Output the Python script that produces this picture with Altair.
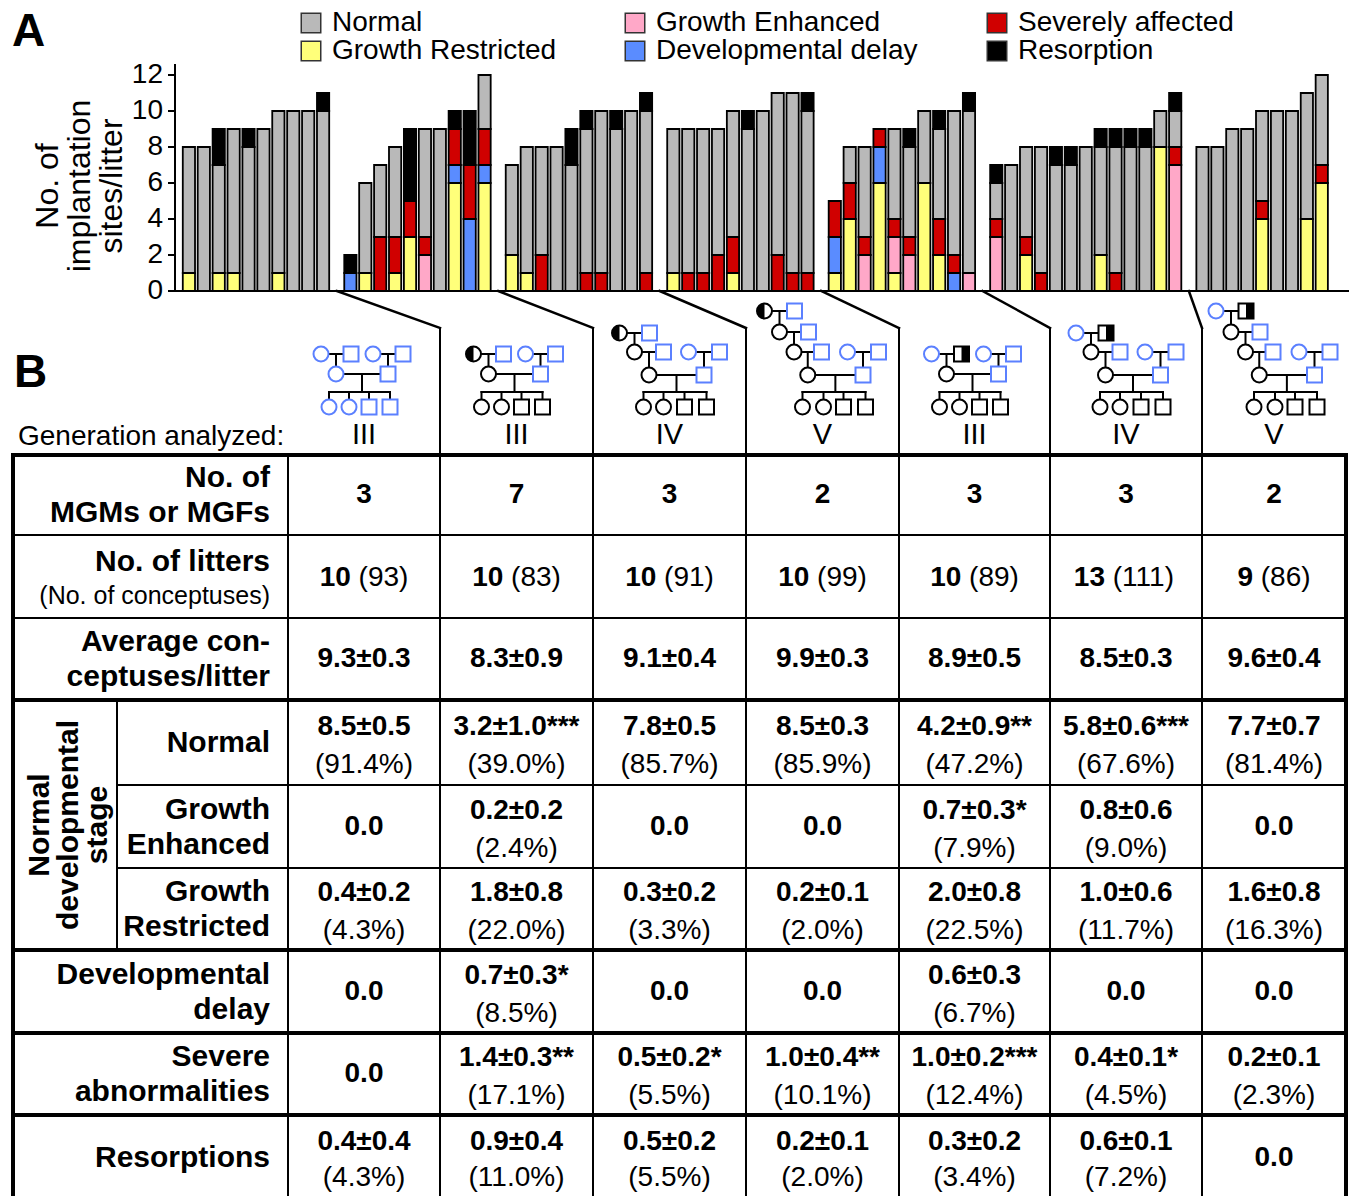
import altair as alt
import pandas as pd

FONT = "Liberation Sans"

# ---------------- Panel A data: segments of each litter, bottom to top ----------------
CATEGORIES = ["Normal", "Growth Restricted", "Growth Enhanced",
              "Developmental delay", "Severely affected", "Resorption"]
CATEGORY_COLORS = ["#b9b9b9", "#ffff7a", "#ffa8c8", "#5a8cff", "#d00000", "#000000"]
CODES = {"N": "Normal", "R": "Growth Restricted", "E": "Growth Enhanced",
         "D": "Developmental delay", "S": "Severely affected", "X": "Resorption"}

litters_ctrl_III = ["R1 N7", "N8", "R1 N6 X2", "R1 N8", "N8 X1", "N9", "R1 N9", "N10", "N10", "N10 X1"]
litters_mgm_III = ["D1 X1", "R1 N5", "S3 N4", "R1 S2 N5", "R3 S2 X4", "E2 S1 N6", "N9",
                   "R6 D1 S2 X1", "D4 S3 X3", "R6 D1 S2 N3"]
litters_mgm_IV = ["R2 N5", "R1 N7", "S2 N6", "N8", "N7 X2", "S1 N8 X1", "S1 N9", "N9 X1", "N10", "S1 N9 X1"]
litters_mgm_V = ["R1 N8", "S1 N8", "S1 N8", "S2 N7", "R1 S2 N7", "N9 X1", "N10", "S2 N9", "S1 N10", "S1 N9 X1"]
litters_mgf_III = ["R1 D2 S2", "R4 S2 N2", "E2 S1 N5", "R6 D2 S1", "R1 E2 S1 N5", "E2 S1 N5 X1",
                   "R6 N4", "R2 S2 N5 X1", "D1 S1 N8", "E1 N9 X1"]
litters_mgf_IV = ["E3 S1 N2 X1", "N7", "R2 S1 N5", "S1 N7", "N7 X1", "N7 X1", "N8", "R2 N6 X1",
                  "S1 N7 X1", "N8 X1", "N8 X1", "R8 N2", "E7 S1 N2 X1"]
litters_mgf_V = ["N8", "N8", "N9", "N9", "R4 S1 N5", "N10", "N10", "R4 N7", "R6 S1 N5"]
GROUPS = [litters_ctrl_III, litters_mgm_III, litters_mgm_IV, litters_mgm_V,
          litters_mgf_III, litters_mgf_IV, litters_mgf_V]

Y_TICKS = [0, 2, 4, 6, 8, 10, 12]
Y_TITLE = ["No. of", "implantation", "sites/litter"]

# ---------------- Panel B data ----------------
COL_GEN = ["III", "III", "IV", "V", "III", "IV", "V"]
COL_TYPE = ["ctrl", "MGM", "MGM", "MGM", "MGF", "MGF", "MGF"]
n_mgm = ["3", "7", "3", "2", "3", "3", "2"]
n_litters = ["10", "10", "10", "10", "10", "13", "9"]
n_conceptuses = ["(93)", "(83)", "(91)", "(99)", "(89)", "(111)", "(86)"]
avg_conceptuses = ["9.3±0.3", "8.3±0.9", "9.1±0.4", "9.9±0.3", "8.9±0.5", "8.5±0.3", "9.6±0.4"]
normal_val = ["8.5±0.5", "3.2±1.0***", "7.8±0.5", "8.5±0.3", "4.2±0.9**", "5.8±0.6***", "7.7±0.7"]
normal_pct = ["(91.4%)", "(39.0%)", "(85.7%)", "(85.9%)", "(47.2%)", "(67.6%)", "(81.4%)"]
enh_val = ["0.0", "0.2±0.2", "0.0", "0.0", "0.7±0.3*", "0.8±0.6", "0.0"]
enh_pct = ["", "(2.4%)", "", "", "(7.9%)", "(9.0%)", ""]
restr_val = ["0.4±0.2", "1.8±0.8", "0.3±0.2", "0.2±0.1", "2.0±0.8", "1.0±0.6", "1.6±0.8"]
restr_pct = ["(4.3%)", "(22.0%)", "(3.3%)", "(2.0%)", "(22.5%)", "(11.7%)", "(16.3%)"]
delay_val = ["0.0", "0.7±0.3*", "0.0", "0.0", "0.6±0.3", "0.0", "0.0"]
delay_pct = ["", "(8.5%)", "", "", "(6.7%)", "", ""]
severe_val = ["0.0", "1.4±0.3**", "0.5±0.2*", "1.0±0.4**", "1.0±0.2***", "0.4±0.1*", "0.2±0.1"]
severe_pct = ["", "(17.1%)", "(5.5%)", "(10.1%)", "(12.4%)", "(4.5%)", "(2.3%)"]
resorp_val = ["0.4±0.4", "0.9±0.4", "0.5±0.2", "0.2±0.1", "0.3±0.2", "0.6±0.1", "0.0"]
resorp_pct = ["(4.3%)", "(11.0%)", "(5.5%)", "(2.0%)", "(3.4%)", "(7.2%)", ""]

ROW_LABELS = [["No. of", "MGMs or MGFs"], ["No. of litters"], ["Average con-", "ceptuses/litter"],
              ["Normal"], ["Growth", "Enhanced"], ["Growth", "Restricted"],
              ["Developmental", "delay"], ["Severe", "abnormalities"], ["Resorptions"]]
STAGE_LABEL = ["Normal", "developmental", "stage"]

# ---------------- layout (page pixels) ----------------
W, H, ORIGIN = 1341, 1188, 8
BAR0, SLOT, GAP, HALF = 188.9, 14.91, 0.83, 0.41
BASE, UNIT = 291.0, 18.0


def X(px):
    return (px - BAR0) / SLOT


def Y(py):
    return (BASE - py) / UNIT


XS = alt.Scale(domain=[X(ORIGIN), X(ORIGIN + W)], nice=False, zero=False)
YS = alt.Scale(domain=[Y(ORIGIN + H), Y(ORIGIN)], nice=False, zero=False)
FILL_SCALE = alt.Scale(domain=CATEGORIES, range=CATEGORY_COLORS)

COL_EDGES = [13, 288, 440, 593, 746, 899, 1050, 1202, 1346]
ROW_EDGES = [455, 535, 618, 700, 785, 868, 950, 1033, 1115, 1200]
THICK_ROWS = {455, 700, 950, 1033, 1115}
SUB_COL = 117
LABEL_RIGHT = 270
BLUE = "#5b80ff"

PEDIGREES = {
    "III": dict(
        couples=[(-43, -13, 354, 374), (9, 39, 354, 374), (-28, 24, 374, 392)],
        sym=[(-43, 354, "circle", "TF"), (-13, 354, "square", "TM"), (9, 354, "circle", "O"),
             (39, 354, "square", "O"), (-28, 374, "circle", "L"), (24, 374, "square", "O")],
        sibs=[-35, -15, 5, 26]),
    "IV": dict(
        couples=[(-50, -20, 333, 352), (-35, -6, 352, 375), (19, 50, 352, 375), (-20.5, 34.5, 375, 392)],
        sym=[(-50, 333, "circle", "TF"), (-20, 333, "square", "TM"), (-35, 352, "circle", "L"),
             (-6, 352, "square", "O"), (19, 352, "circle", "O"), (50, 352, "square", "O"),
             (-20.5, 375, "circle", "L"), (34.5, 375, "square", "O")],
        sibs=[-26, -6, 15, 37]),
    "V": dict(
        couples=[(-58, -28, 311, 332), (-43, -14, 332, 352), (-28.5, -1, 352, 375),
                 (25, 56, 352, 375), (-14.75, 40.5, 375, 392)],
        sym=[(-58, 311, "circle", "TF"), (-28, 311, "square", "TM"), (-43, 332, "circle", "L"),
             (-14, 332, "square", "O"), (-28.5, 352, "circle", "L"), (-1, 352, "square", "O"),
             (25, 352, "circle", "O"), (56, 352, "square", "O"),
             (-14.75, 375, "circle", "L"), (40.5, 375, "square", "O")],
        sibs=[-20, 1, 21, 43]),
}
SIB_SHAPES = ["circle", "circle", "square", "square"]

# ---------------- build tables ----------------
bars, gap_centers = [], []
idx = 0
for gi, grp in enumerate(GROUPS):
    for bar in grp:
        p = idx + gi * GAP
        base = 0
        for tok in bar.split():
            n = int(tok[1:])
            bars.append(dict(x=p - HALF, x2=p + HALF, y=base, y2=base + n, cat=CODES[tok[0]]))
            base += n
        idx += 1
    if gi < len(GROUPS) - 1:
        gap_centers.append(idx - 1 + gi * GAP + (1 + GAP) / 2)
bars_df = pd.DataFrame(bars)

rules = []


def rule(x1, y1, x2, y2, w):
    rules.append(dict(x=x1, y=y1, x2=x2, y2=y2, w=w))


def prule(px1, py1, px2, py2, w):
    rule(X(px1), Y(py1), X(px2), Y(py2), w)


# axes of panel A
rule(X(175), 0, X(175), Y(65), 2)
rule(X(175), 0, X(1357), 0, 2)
for t in Y_TICKS:
    rule(X(169), t, X(175), t, 2)

# connectors + column separators
for k, gc in enumerate(gap_centers):
    edge = COL_EDGES[k + 2]
    rule(gc, 0, X(edge), Y(328), 2.5)
    prule(edge, 328, edge, 1200, 2)
# table lines
bottom = 1200
prule(COL_EDGES[0], ROW_EDGES[0], COL_EDGES[0], bottom, 4)
prule(COL_EDGES[-1], ROW_EDGES[0], COL_EDGES[-1], bottom, 4)
prule(COL_EDGES[1], ROW_EDGES[0], COL_EDGES[1], bottom, 2)
prule(SUB_COL, ROW_EDGES[3], SUB_COL, ROW_EDGES[6], 2)
for ry in ROW_EDGES[:-1]:
    left = SUB_COL if ry in (ROW_EDGES[4], ROW_EDGES[5]) else COL_EDGES[0]
    prule(left, ry, COL_EDGES[-1], ry, 4 if ry in THICK_ROWS else 2)

# pedigrees
symbols, half_circ, half_sq = [], [], []
centers = [(COL_EDGES[i + 1] + COL_EDGES[i + 2]) / 2 for i in range(7)]
for cx, gen, ctype in zip(centers, COL_GEN, COL_TYPE):
    ped = PEDIGREES[gen]
    for xf, xm, yy, cy in ped["couples"]:
        prule(cx + xf, yy, cx + xm, yy, 2)
        mid = (xf + xm) / 2
        prule(cx + mid, yy, cx + mid, cy, 2)
    sibs = ped["sibs"]
    prule(cx + sibs[0], 392, cx + sibs[-1], 392, 2)
    allsym = list(ped["sym"])
    for sx, sh in zip(sibs, SIB_SHAPES):
        prule(cx + sx, 392, cx + sx, 407, 2)
        allsym.append((sx, 407, sh, "L"))
    for sx, sy, sh, role in allsym:
        if ctype == "ctrl":
            col = BLUE
        elif role == "L":
            col = "black"
        elif ctype == "MGM" and role == "TF":
            col = "black"
            half_circ.append(dict(x=X(cx + sx), y=Y(sy)))
        elif ctype == "MGF" and role == "TM":
            col = "black"
            half_sq.append(dict(x=X(cx + sx), y=Y(sy)))
        else:
            col = BLUE
        symbols.append(dict(x=X(cx + sx), y=Y(sy), shape=sh, c=col))

# texts
texts = {}


def txt(key, px, py, t, s):
    texts.setdefault(key, []).append(dict(x=X(px), y=Y(py), t=t, s=s))


def width(s, size):
    w = {"(": 0.333, ")": 0.333, " ": 0.278, ".": 0.278, "%": 0.889}
    return sum(w.get(ch, 0.556) for ch in s) * size


txt(("bold", "left", 0), 12, 32, "A", 46)
txt(("bold", "left", 0), 14, 373, "B", 46)
for t in Y_TICKS:
    txt(("normal", "right", 0), 163, BASE - t * UNIT, str(t), 28)
for i, line in enumerate(Y_TITLE):
    txt(("normal", "center", 270), 48 + i * 32, 186, line, 32)
LEGEND_POS = [(311, 23), (311, 51), (635, 23), (635, 51), (997, 23), (997, 51)]
legend = []
for cat, (lx, ly) in zip(CATEGORIES, LEGEND_POS):
    legend.append(dict(x=X(lx), y=Y(ly), cat=cat))
    txt(("normal", "left", 0), lx + 21, ly, cat, 28)

txt(("normal", "left", 0), 18, 437, "Generation analyzed:", 28)
for cx, gen in zip(centers, COL_GEN):
    txt(("normal", "center", 0), cx, 435, gen, 29)

LS = 30
row_c = [(ROW_EDGES[i] + ROW_EDGES[i + 1]) / 2 for i in range(9)]
for i, lines in enumerate(ROW_LABELS):
    c = row_c[i]
    if len(lines) == 1:
        if i == 1:
            txt(("bold", "right", 0), LABEL_RIGHT, c - 15, lines[0], LS)
            txt(("normal", "right", 0), LABEL_RIGHT, c + 19, "(No. of conceptuses)", 25)
        else:
            txt(("bold", "right", 0), LABEL_RIGHT, c, lines[0], LS)
    else:
        txt(("bold", "right", 0), LABEL_RIGHT, c - 17, lines[0], LS)
        txt(("bold", "right", 0), LABEL_RIGHT, c + 18, lines[1], LS)
for i, line in enumerate(STAGE_LABEL):
    txt(("bold", "center", 270), 40 + i * 29, 825, line, LS)

VS = 28
for k, cx in enumerate(centers):
    txt(("bold", "center", 0), cx, row_c[0], n_mgm[k], VS)
    b, r = n_litters[k], n_conceptuses[k]
    tot = width(b, VS) + width(" ", VS) + width(r, VS)
    left = cx - tot / 2
    txt(("bold", "right", 0), left + width(b, VS), row_c[1] + 1, b, VS)
    txt(("normal", "left", 0), left + width(b + " ", VS), row_c[1] + 1, r, VS)
    txt(("bold", "center", 0), cx, row_c[2], avg_conceptuses[k], VS)
    for ri, (vals, pcts) in enumerate([(normal_val, normal_pct), (enh_val, enh_pct),
                                       (restr_val, restr_pct), (delay_val, delay_pct),
                                       (severe_val, severe_pct), (resorp_val, resorp_pct)]):
        c = row_c[3 + ri]
        if pcts[k]:
            txt(("bold", "center", 0), cx, c - 16, vals[k], VS)
            txt(("normal", "center", 0), cx, min(c + 22, 1178), pcts[k], VS)
        else:
            txt(("bold", "center", 0), cx, c, vals[k], VS)

# ---------------- chart ----------------
ex = alt.X("x:Q", scale=XS, axis=None)
ey = alt.Y("y:Q", scale=YS, axis=None)

layers = []
layers.append(alt.Chart(bars_df).mark_rect(stroke="black", strokeWidth=1.8).encode(
    x=ex, x2="x2:Q", y=ey, y2="y2:Q",
    fill=alt.Fill("cat:N", scale=FILL_SCALE, legend=None)))
layers.append(alt.Chart(pd.DataFrame(rules)).mark_rule(color="black", strokeCap="square").encode(
    x=ex, x2="x2:Q", y=ey, y2="y2:Q", strokeWidth=alt.StrokeWidth("w:Q", scale=None)))
layers.append(alt.Chart(pd.DataFrame(legend)).mark_point(
    shape="square", size=380, filled=True, opacity=1, stroke="#333333", strokeWidth=1.5).encode(
    x=ex, y=ey, fill=alt.Fill("cat:N", scale=FILL_SCALE, legend=None)))
layers.append(alt.Chart(pd.DataFrame(symbols)).mark_point(size=225, strokeWidth=2, opacity=1).encode(
    x=ex, y=ey, shape=alt.Shape("shape:N", scale=None), stroke=alt.Stroke("c:N", scale=None),
    fill=alt.value("white")))
layers.append(alt.Chart(pd.DataFrame(half_circ)).mark_point(
    shape="M0,-1 A1,1 0 0,0 0,1 Z", size=225, filled=True, color="black", opacity=1).encode(x=ex, y=ey))
layers.append(alt.Chart(pd.DataFrame(half_sq)).mark_point(
    shape="M0,-1 L1,-1 L1,1 L0,1 Z", size=225, filled=True, color="black", opacity=1).encode(x=ex, y=ey))
for (weight, align, angle), rows in texts.items():
    layers.append(alt.Chart(pd.DataFrame(rows)).mark_text(
        font=FONT, fontWeight=weight, align=align, baseline="middle", angle=angle, color="black").encode(
        x=ex, y=ey, text="t:N", size=alt.Size("s:Q", scale=None)))

chart = alt.layer(*layers).properties(
    width=W, height=H, padding=0, autosize="none", background="white"
).configure_view(stroke=None)

chart.save("out.html", embed_options={"renderer": "svg", "actions": False})
